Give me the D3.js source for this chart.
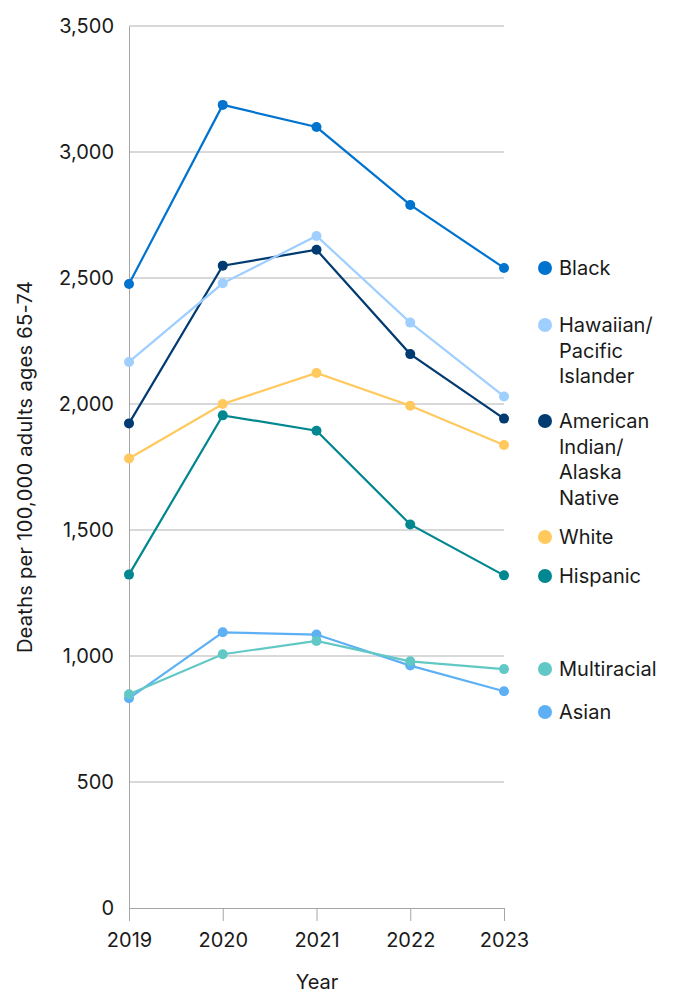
<!DOCTYPE html>
<html>
<head>
<meta charset="utf-8">
<script src="https://cdn.jsdelivr.net/npm/d3@7"></script>
<style>
  body { margin: 0; background: #fff; }
  text { font-family: Inter, "Noto Sans", sans-serif; fill: #1a1a1a; }
</style>
</head>
<body>
<script>
// values
var years = [2019, 2020, 2021, 2022, 2023];
var black = [2476, 3187, 3099, 2790, 2540];
var hawaiian = [2167, 2479, 2667, 2323, 2030];
var aian = [1923, 2549, 2612, 2198, 1942];
var white = [1784, 2000, 2123, 1993, 1837];
var hispanic = [1323, 1955, 1894, 1522, 1320];
var multiracial = [848, 1007, 1060, 979, 948];
var asian = [832, 1094, 1085, 962, 860];
var yTicks = [0, 500, 1000, 1500, 2000, 2500, 3000, 3500];

var series = [
  { name: ["Black"], values: black, color: "#0073cf" },
  { name: ["Hawaiian/", "Pacific", "Islander"], values: hawaiian, color: "#9fcfff" },
  { name: ["American", "Indian/", "Alaska", "Native"], values: aian, color: "#023b71" },
  { name: ["White"], values: white, color: "#ffc95e" },
  { name: ["Hispanic"], values: hispanic, color: "#00878f" },
  { name: ["Multiracial"], values: multiracial, color: "#62c8c6" },
  { name: ["Asian"], values: asian, color: "#5eb0f5" }
];
// legend slot tops (px), picked to avoid overlap like the original
var legendY = [268, 325, 421, 537, 576, 669, 712];

var width = 673, height = 994;
var fs = "20px";
var svg = d3.select("body").append("svg")
  .attr("width", width)
  .attr("height", height);

var x = d3.scalePoint().domain(years).range([129, 504]);
var y = d3.scaleLinear().domain([0, 3500]).range([908, 26]);

// grid lines
svg.append("g").selectAll("line")
  .data(yTicks.slice(1))
  .join("line")
  .attr("x1", 129).attr("x2", 504)
  .attr("y1", d => y(d)).attr("y2", d => y(d))
  .attr("stroke", "#b3b3b3").attr("stroke-width", 1);

// y axis
var yAxis = svg.append("g")
  .attr("transform", "translate(129,0)")
  .call(d3.axisLeft(y).tickValues(yTicks).tickFormat(d3.format(",")).tickSize(0).tickPadding(15));
yAxis.select(".domain").attr("stroke", "#a6a6a6");
yAxis.selectAll("text").style("font-size", fs).style("font-family", "Inter, sans-serif").attr("fill", "#1a1a1a");

// x axis
var xAxis = svg.append("g")
  .attr("transform", "translate(0,908)")
  .call(d3.axisBottom(x).tickSize(13).tickPadding(12).tickSizeOuter(0));
xAxis.select(".domain").attr("stroke", "#a6a6a6");
xAxis.selectAll(".tick line").attr("stroke", "#a6a6a6");
xAxis.selectAll("text").style("font-size", fs).style("font-family", "Inter, sans-serif").attr("fill", "#1a1a1a");

// axis titles
svg.append("text")
  .attr("x", 317).attr("y", 989)
  .attr("text-anchor", "middle")
  .style("font-size", fs)
  .text("Year");

svg.append("text")
  .attr("transform", "translate(32,467) rotate(-90)")
  .attr("text-anchor", "middle")
  .style("font-size", fs)
  .style("letter-spacing", "0.3px")
  .text("Deaths per 100,000 adults ages 65-74");

var line = d3.line()
  .x((d, i) => x(years[i]))
  .y(d => y(d));

// draw from bottom to top so Black ends up on top
series.slice().reverse().forEach(function(s) {
  var g = svg.append("g");
  g.append("path")
    .datum(s.values)
    .attr("fill", "none")
    .attr("stroke", s.color)
    .attr("stroke-width", 2.2)
    .attr("d", line);
  g.selectAll("circle")
    .data(s.values)
    .join("circle")
    .attr("cx", (d, i) => x(years[i]))
    .attr("cy", d => y(d))
    .attr("r", 5)
    .attr("fill", s.color);
});

// legend
series.forEach(function(s, k) {
  var top = legendY[k];
  svg.append("circle")
    .attr("cx", 545).attr("cy", top)
    .attr("r", 7)
    .attr("fill", s.color);
  var t = svg.append("text")
    .attr("x", 559).attr("y", top + 7)
    .style("font-size", fs);
  s.name.forEach(function(n, j) {
    t.append("tspan")
      .attr("x", 559)
      .attr("dy", j == 0 ? 0 : 25.5)
      .text(n);
  });
});
</script>
</body>
</html>
